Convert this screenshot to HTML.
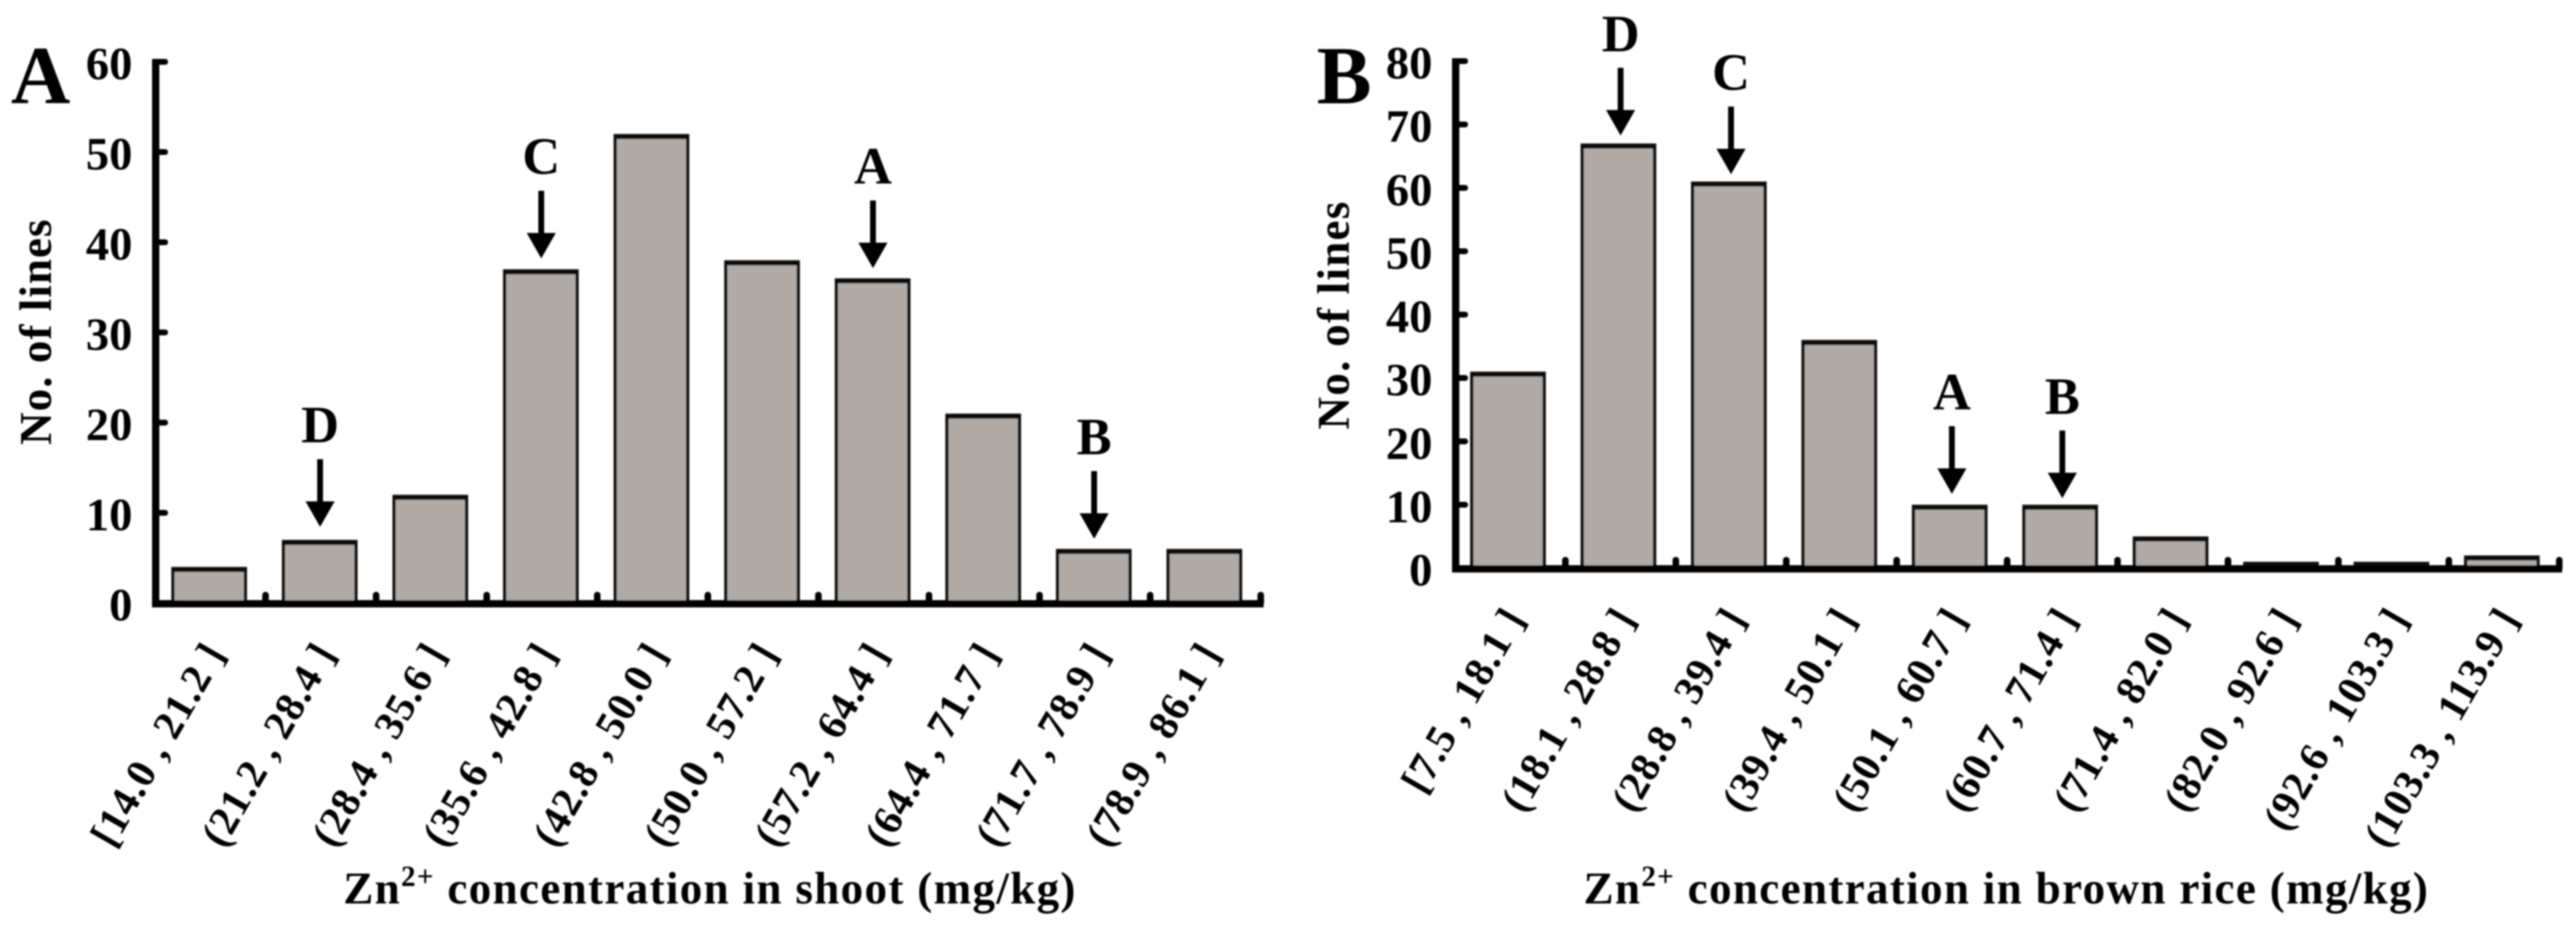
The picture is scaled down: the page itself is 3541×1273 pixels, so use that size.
<!DOCTYPE html>
<html lang="en">
<head>
<meta charset="utf-8">
<title>Zn2+ concentration histograms</title>
<style>
html,body{margin:0;padding:0;background:#fff;}
#figure{display:block;width:3541px;height:1273px;}
text{font-family:"Liberation Serif",serif;font-weight:bold;fill:#000;}
</style>
</head>
<body>
<svg id="figure" xmlns="http://www.w3.org/2000/svg" width="3541" height="1273" viewBox="0 0 3541 1273">
<defs><filter id="soft" x="-5%" y="-5%" width="110%" height="110%"><feGaussianBlur stdDeviation="1.1"/></filter></defs>
<rect width="3541" height="1273" fill="#fff"/>
<g id="root" filter="url(#soft)"></g>
</svg>
<script>
const shootCategories = ["[14.0 , 21.2 ]","(21.2 , 28.4 ]","(28.4 , 35.6 ]","(35.6 , 42.8 ]","(42.8 , 50.0 ]","(50.0 , 57.2 ]","(57.2 , 64.4 ]","(64.4 , 71.7 ]","(71.7 , 78.9 ]","(78.9 , 86.1 ]"];
const shootCounts = [4,7,12,37,52,38,36,21,6,6];
const shootTicks = [0,10,20,30,40,50,60];
const shootMarkedBins = [1,3,6,8];
const shootMarkedLetters = ["D","C","A","B"];

const riceCategories = ["[7.5 , 18.1 ]","(18.1 , 28.8 ]","(28.8 , 39.4 ]","(39.4 , 50.1 ]","(50.1 , 60.7 ]","(60.7 , 71.4 ]","(71.4 , 82.0 ]","(82.0 , 92.6 ]","(92.6 , 103.3 ]","(103.3 , 113.9 ]"];
const riceCounts = [31,67,61,36,10,10,5,1,1,2];
const riceTicks = [0,10,20,30,40,50,60,70,80];
const riceMarkedBins = [1,2,4,5];
const riceMarkedLetters = ["D","C","A","B"];

const NS = "http://www.w3.org/2000/svg";
const root = document.getElementById("root");

function make(parent, tag, attrs) {
  const el = document.createElementNS(NS, tag);
  for (const k in attrs) el.setAttribute(k, attrs[k]);
  parent.appendChild(el);
  return el;
}

function drawChart(o) {
  const g = make(root, "g", {});
  
  

  const band = o.plotWidth / o.categories.length;
  const xBand = function (i) { return o.x0 + i * band; };
  const xCenter = function (i) { return o.x0 + (i + 0.5) * band; };
  const yMax = o.ticks[o.ticks.length - 1];
  const yScale = function (v) { return o.y0 - (v / yMax) * o.plotHeight; };

  // bars: dark outer box with a grey inner fill (thicker on top)
  o.categories.forEach(function (c, i) {
    const top = yScale(o.values[i]);
    const left = xCenter(i) + o.barShift - o.barWidth / 2;
    const bar = make(g, "rect", {
      x: left, y: top, width: o.barWidth, height: o.y0 - top, fill: "#0c0c0c"
    });
    
    
    const innerH = o.y0 - top - 7;
    if (innerH > 0) {
      const fill = make(g, "rect", {
        x: left + 4.5, y: top + 7, width: o.barWidth - 9, height: innerH, fill: "#b0aba7"
      });
      
      
    }
  });

  // y axis
  const yAxis = make(g, "path", {
    d: "M" + (o.x0 + 1) + " " + (yScale(yMax) - 4) + "V" + (o.y0 + 4),
    stroke: "#000", "stroke-width": 10, fill: "none"
  });
  
  

  o.ticks.forEach(function (t) {
    const y = yScale(t);
    const tick = make(g, "path", {
      d: "M" + o.x0 + " " + y + "H" + (o.x0 + 14),
      stroke: "#000", "stroke-width": 8, "stroke-linecap": "round", fill: "none"
    });
    
    
    const lab = make(g, "text", { x: o.x0 - 31, y: y + 24, "font-size": 64, "text-anchor": "end" });
    lab.textContent = String(t);
    
    
  });

  // x axis
  const xAxis = make(g, "path", {
    d: "M" + (o.x0 - 4) + " " + (o.y0 + 1) + "H" + (o.x0 + o.plotWidth + 4),
    stroke: "#000", "stroke-width": 10, fill: "none"
  });
  
  

  o.categories.forEach(function (c, i) {
    const tx = xBand(i + 1);
    const tick = make(g, "path", {
      d: "M" + tx + " " + o.y0 + "V" + (o.y0 - 11),
      stroke: "#000", "stroke-width": 9, "stroke-linecap": "round", fill: "none"
    });
    
    

    const ax = xCenter(i) + 22;
    const ay = o.y0 + 69;
    const lab = make(g, "text", {
      x: ax, y: ay, "font-size": 57, "text-anchor": "end", "letter-spacing": 1.2,
      transform: "rotate(-60 " + ax + " " + ay + ")"
    });
    lab.textContent = c;
    
    
  });

  // arrow annotations
  o.marked.forEach(function (bin, j) {
    const cx = xCenter(bin) + o.arrowShift;
    const tip = yScale(o.values[bin]) - o.arrowGap[j];
    const arrow = make(g, "path", {
      d: "M" + (cx - 4) + " " + (tip - 93) + "H" + (cx + 4) + "V" + (tip - 35) +
         "H" + (cx + 20) + "L" + cx + " " + tip + "L" + (cx - 20) + " " + (tip - 35) +
         "H" + (cx - 4) + "Z",
      fill: "#000"
    });
    
    
    const lab = make(g, "text", { x: cx, y: tip - 116, "font-size": 72, "text-anchor": "middle" });
    lab.textContent = o.letters[j];
    
    
  });

  // panel letter
  const panel = make(g, "text", { x: o.panelX, y: 142, "font-size": 113 });
  panel.textContent = o.panel;
  
  

  // y title
  const yt = make(g, "text", {
    x: 0, y: 0, "font-size": 62, "text-anchor": "middle", "letter-spacing": o.yTitleSpacing,
    transform: "translate(" + o.yTitleX + " " + o.yTitleY + ") rotate(-90)"
  });
  yt.textContent = "No. of lines";
  
  

  // x title
  const xt = make(g, "text", {
    x: o.xTitleX, y: 1242, "font-size": 62, "text-anchor": "middle", "letter-spacing": 1.8
  });
  
  
  xt.appendChild(document.createTextNode("Zn"));
  const sup = make(xt, "tspan", { dy: -24, "font-size": 40 });
  sup.textContent = "2+";
  const rest = make(xt, "tspan", { dy: 24 });
  rest.textContent = " concentration in " + o.xTitleWhat + " (mg/kg)";
}

drawChart({
  id: "shoot", panel: "A", panelX: 15,
  categories: shootCategories, values: shootCounts, ticks: shootTicks,
  marked: shootMarkedBins, letters: shootMarkedLetters, arrowGap: [18, 15, 14, 14],
  x0: 213, y0: 829, plotWidth: 1520, plotHeight: 744, barWidth: 104, barShift: -1.5, arrowShift: -1,
  yTitleX: 70, yTitleY: 456, yTitleSpacing: 1.4,
  xTitleX: 976, xTitleWhat: "shoot"
});

drawChart({
  id: "rice", panel: "B", panelX: 1810,
  categories: riceCategories, values: riceCounts, ticks: riceTicks,
  marked: riceMarkedBins, letters: riceMarkedLetters, arrowGap: [11, 10, 15, 9],
  x0: 2000, y0: 781, plotWidth: 1518, plotHeight: 697, barWidth: 104, barShift: -3, arrowShift: 0,
  yTitleX: 1854, yTitleY: 433, yTitleSpacing: 1.7,
  xTitleX: 2758, xTitleWhat: "brown rice"
});
</script>
</body>
</html>
